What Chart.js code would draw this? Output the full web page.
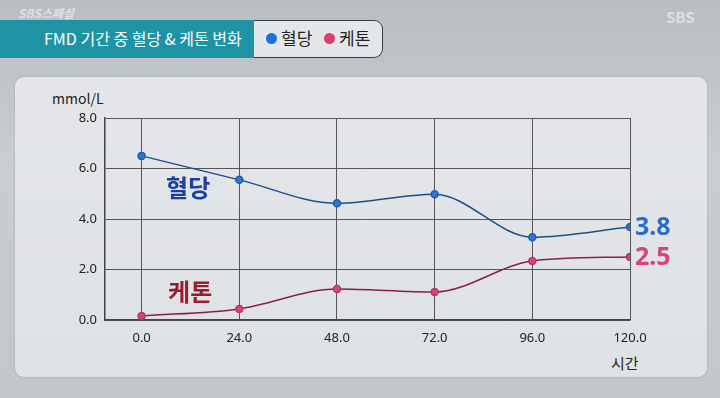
<!DOCTYPE html>
<html>
<head>
<meta charset="utf-8">
<script src="https://cdn.jsdelivr.net/npm/chart.js@4/dist/chart.umd.min.js"></script>
<style>
body { margin: 0; width: 720px; height: 398px; overflow: hidden; position: relative;
  background: linear-gradient(180deg, #b9bec3 0%, #c9ccd0 40%, #c3c6ca 100%);
  font-family: "Noto Sans CJK KR", "Noto Sans", sans-serif; }
#head { position: absolute; left: 0; top: 20px; width: 258px; height: 38px; background: #1d93a5; }
#head span { position: absolute; left: 44px; top: 6px; color: #fff; font-size: 16px; }
#legend { position: absolute; left: 254px; top: 20px; width: 128px; height: 36px; background: #e4e7ea;
  border: 1.5px solid #3a3f44; border-left: none; border-radius: 0 9px 9px 0; font-size: 17px; color: #222; }
#legend .it { position: absolute; top: 4px; }
#legend i { display: inline-block; width: 11px; height: 11px; border-radius: 50%; margin-right: 4px; vertical-align: 1px; }
#logo1 { position: absolute; left: 18px; top: 4px; color: #e6e9ec; font-size: 12px; font-weight: bold; font-style: italic; opacity: .8; }
#logo2 { position: absolute; left: 666px; top: 6px; color: #e4e6e8; font-size: 15px; font-weight: bold; opacity: .85; }
#panel { position: absolute; left: 15px; top: 77px; width: 692px; height: 300px; border-radius: 9px;
  background: linear-gradient(180deg, #e4e6e9 0%, #dfe2e5 100%); box-shadow: 0 0 2px #9a9ea2; }
.axt { position: absolute; font-size: 14px; color: #222; }
canvas { position: absolute; left: 0; top: 0; }
</style>
</head>
<body>
<div id="logo1">SBS스페셜</div>
<div id="logo2">SBS</div>
<div id="head"><span>FMD 기간 중 혈당 &amp; 케톤 변화</span></div>
<div id="legend">
  <span class="it" style="left:12px"><i style="background:#1f6fd6"></i>혈당</span>
  <span class="it" style="left:70px"><i style="background:#d6426e"></i>케톤</span>
</div>
<div id="panel"></div>
<div class="axt" style="left:52px; top:88px">mmol/L</div>
<div class="axt" style="left:611px; top:352px; font-size:15px">시간</div>
<canvas id="c" width="720" height="398"></canvas>
<script>
const hours = [0, 24, 48, 72, 96, 120];
const glucose = [6.5, 5.55, 4.62, 4.98, 3.28, 3.68];
const ketone = [0.16, 0.44, 1.23, 1.11, 2.34, 2.5];
const endLabels = ['3.8', '2.5'];
const yTicks = [0, 2, 4, 6, 8];

const blueLine = '#1a4f8f', bluePt = '#2a78d4';
const redLine = '#8a1f45', redPt = '#d4457a';

const labelPlugin = {
  id: 'labels',
  afterDatasetsDraw(chart) {
    const ctx = chart.ctx, x = chart.scales.x, y = chart.scales.y;
    ctx.save();
    ctx.textBaseline = 'middle';
    ctx.textAlign = 'left';
    ctx.font = 'bold 25px "Noto Sans", "DejaVu Sans", sans-serif';
    ctx.fillStyle = '#2a6ec4';
    ctx.fillText(endLabels[0], x.getPixelForValue(120) + 5, y.getPixelForValue(glucose[5]) + 1);
    ctx.fillStyle = '#d4457a';
    ctx.fillText(endLabels[1], x.getPixelForValue(120) + 5, y.getPixelForValue(ketone[5]) + 1);
    ctx.font = 'bold 24px "Noto Sans CJK KR", sans-serif';
    ctx.fillStyle = '#1b3f9e';
    ctx.fillText('혈당', x.getPixelForValue(6), y.getPixelForValue(5.25));
    ctx.fillStyle = '#9c1b2c';
    ctx.fillText('케톤', x.getPixelForValue(6.5), y.getPixelForValue(1.1));
    ctx.restore();
  }
};

new Chart(document.getElementById('c'), {
  type: 'line',
  data: {
    datasets: [
      { label: '혈당', data: hours.map((h, i) => ({ x: h, y: glucose[i] })),
        borderColor: blueLine, backgroundColor: bluePt, pointBackgroundColor: bluePt, pointBorderColor: '#1d5fae',
        borderWidth: 1.5, pointRadius: 3.5, tension: 0.35, cubicInterpolationMode: 'monotone' },
      { label: '케톤', data: hours.map((h, i) => ({ x: h, y: ketone[i] })),
        borderColor: redLine, backgroundColor: redPt, pointBackgroundColor: redPt, pointBorderColor: '#b8355f',
        borderWidth: 1.5, pointRadius: 3.5, tension: 0.35, cubicInterpolationMode: 'monotone' }
    ]
  },
  options: {
    responsive: false,
    animation: false,
    layout: { padding: { left: 50, right: 90, top: 118, bottom: 46 } },
    plugins: { legend: { display: false }, tooltip: { enabled: false } },
    scales: {
      x: {
        type: 'linear', min: -9, max: 120,
        afterBuildTicks: s => { s.ticks = hours.map(v => ({ value: v })); },
        afterFit: s => { s.height = 32; },
        ticks: { callback: v => v.toFixed(1), color: '#222', padding: 10, font: { size: 13, family: '"Noto Sans", sans-serif' } },
        grid: { color: '#555', lineWidth: 1, drawTicks: false },
        border: { color: '#444', width: 1.5 }
      },
      y: {
        min: 0, max: 8,
        afterBuildTicks: s => { s.ticks = yTicks.map(v => ({ value: v })); },
        afterFit: s => { s.width = 55; },
        ticks: { callback: v => v.toFixed(1), color: '#222', padding: 8, font: { size: 13, family: '"Noto Sans", sans-serif' } },
        grid: { color: '#555', lineWidth: 1, drawTicks: false },
        border: { color: '#444', width: 1.5 }
      }
    }
  },
  plugins: [labelPlugin]
});
</script>
</body>
</html>
